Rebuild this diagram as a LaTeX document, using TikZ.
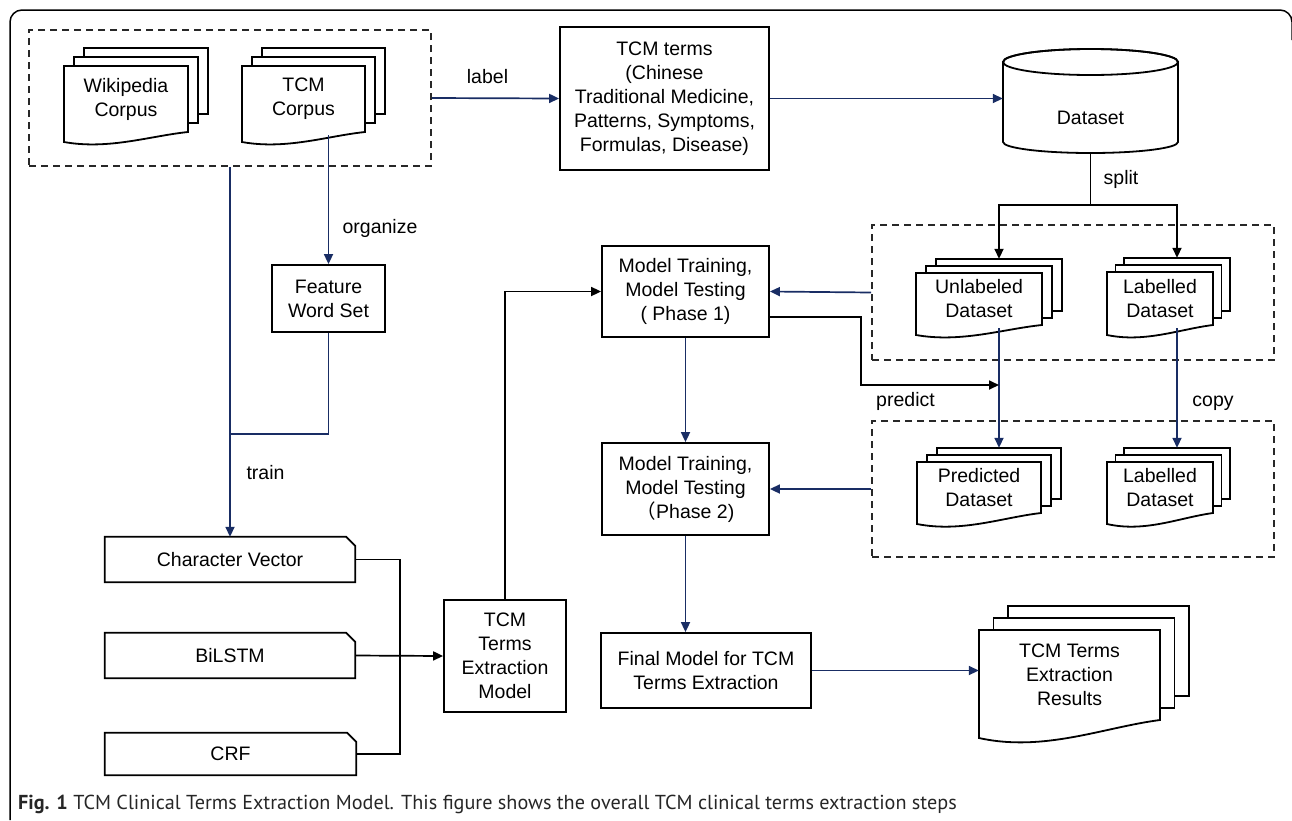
\documentclass[tikz,border=0pt]{standalone}
\usepackage{fontspec}
\setmainfont{Liberation Sans}
\newfontfamily\capfont{PT Sans}
\newfontfamily\cjk{Noto Sans CJK SC}
\usetikzlibrary{arrows.meta,calc}
\definecolor{navy}{RGB}{25,45,100}
\definecolor{dashgray}{RGB}{40,40,40}
\newcommand\mainsize{\fontsize{19.5}{24}\selectfont}
\tikzset{
 box/.style={draw, line width=1.8pt, inner sep=0pt, align=center, font=\mainsize},
 plainbox/.style={inner sep=0pt, align=center, font=\mainsize},
 docline/.style={draw=black, fill=white, line width=1.8pt},
 doctext/.style={inner sep=0pt, align=center, font=\mainsize},
 dbox/.style={draw=dashgray, line width=1.6pt, dash pattern=on 7pt off 5pt, inner sep=0pt},
 nav/.style={draw=navy, line width=1.7pt},
 navarrow/.style={nav, -{Triangle[length=10pt,width=9pt]}},
 blk/.style={draw=black, line width=1.7pt},
 blkarrow/.style={blk, -{Triangle[length=10pt,width=9pt]}},
 lbl/.style={font=\mainsize, inner sep=0pt},
}
% #1 name, #2 x0, #3 x1, #4 ytop, #5 ybottom(right), #6 dx, #7 dy, #8 text, #9 wave
\newcommand\docstack[9]{%
 \filldraw[docline] ({#2+2*#6},{#4-2*#7}) rectangle ({#3+2*#6},{#5-2*#7});
 \filldraw[docline] ({#2+#6},{#4-#7}) rectangle ({#3+#6},{#5-#7});
 \filldraw[docline] (#2,#4) -- (#3,#4) -- (#3,#5) .. controls ({#2+0.69*(#3-#2)},{#5+0.4*#9}) and ({#2+0.36*(#3-#2)},{#5+1.8*#9}) .. (#2,{#5+#9}) -- cycle;
 \node[doctext, minimum width={(#3-#2)*1pt}, minimum height={(#5-#4)*1pt}] (#1) at ({(#2+#3)/2},{(#4+#5)/2}) {#8};
}
\begin{document}
\begin{tikzpicture}[x=1pt,y=-1pt]
\useasboundingbox (0,0) rectangle (1292,820);
\draw[line width=1.5pt, rounded corners=12pt] (10,820) -- (10,10) -- (1292,10) -- (1292,40);

% dashed groups
\node[dbox, minimum width=402pt, minimum height=136pt] (box1) at (230,98) {};
\node[dbox, minimum width=402pt, minimum height=135pt] (box2) at (1073,292.5) {};
\node[dbox, minimum width=402pt, minimum height=136pt] (box3) at (1073,489) {};

% document stacks
\docstack{wiki}{64}{188}{66}{132}{10}{9}{Wikipedia\\Corpus}{10}
\docstack{tcmc}{242}{365}{66}{132}{10}{9}{TCM\\Corpus}{10}
\docstack{unl}{916}{1042}{273}{325}{10}{7}{Unlabeled\\Dataset}{10}
\docstack{labA}{1107}{1213}{272}{325}{8.5}{7}{Labelled\\Dataset}{10}
\docstack{pred}{917}{1041}{462}{513}{10}{7}{Predicted\\Dataset}{11}
\docstack{labB}{1107}{1213}{462}{513}{8.5}{7}{Labelled\\Dataset}{11}
\docstack{res}{979}{1160}{630}{720}{14.5}{12}{TCM Terms\\Extraction\\Results}{18}

% dataset cylinder
\filldraw[docline] (1003,62) -- (1003,142) arc[start angle=180, end angle=360, x radius=87.5pt, y radius=11pt] -- (1178,62) arc[start angle=0, end angle=180, x radius=87.5pt, y radius=13pt] -- cycle;
\draw[line width=1.8pt] (1090.5,62) ellipse [x radius=87.5pt, y radius=13pt];
\node[inner sep=0pt, minimum width=175pt, minimum height=104pt] (ds) at (1090.5,101) {};
\node[lbl] (dstext) at (1090.5,118) {Dataset};

% boxes
\node[box, minimum width=209pt, minimum height=143pt] (terms) at (664.5,98.5) {TCM terms\\(Chinese\\Traditional Medicine,\\Patterns, Symptoms,\\Formulas, Disease)};
\node[box, minimum width=113pt, minimum height=67pt] (fws) at (328.5,298.5) {Feature\\Word Set};
\node[box, minimum width=167pt, minimum height=91pt] (phase1) at (685.5,291.5) {Model Training,\\Model Testing\\( Phase 1)};
\node[box, minimum width=167pt, minimum height=92pt] (phase2) at (685.5,489) {Model Training,\\Model Testing\\{\cjk （}Phase 2)};
\node[box, minimum width=210pt, minimum height=75pt] (final) at (706,670.5) {Final Model for TCM\\Terms Extraction};
\node[box, minimum width=122pt, minimum height=112pt] (tem) at (505,656) {TCM\\Terms\\Extraction\\Model};

\node[plainbox, minimum width=250pt, minimum height=45pt] (cv) at (230,559.5) {Character Vector};
\node[plainbox, minimum width=250pt, minimum height=45pt] (bilstm) at (230,655.5) {BiLSTM};
\node[plainbox, minimum width=251pt, minimum height=42pt] (crf) at (230.5,754) {CRF};
\foreach \n in {cv,bilstm,crf}
  \draw[line width=1.8pt] (\n.south west) -- (\n.north west) -- ([xshift=-9pt]\n.north east) -- ([yshift=-9pt]\n.north east) -- (\n.south east) -- cycle;

% connectors
\draw[navarrow] (box1.east) -- (terms.west);
\node[lbl] (lablabel) at (487.5,77) {label};
\draw[navarrow] (terms.east) -- (terms.east -| ds.west);

\coordinate (sj) at (1090.5,205);
\draw[blk] (ds.south) -- (sj);
\draw[blkarrow] (sj) -| ([xshift=20pt,yshift=14pt]unl.north);
\draw[blkarrow] (sj) -| ([xshift=17pt,yshift=14pt]labA.north);
\node[lbl] (splitlabel) at (1121,179) {split};

\draw[navarrow] (box2.west) -- (phase1.east);
\draw[navarrow] (box3.west) -- (phase2.east);
\draw[navarrow] (phase1.south) -- (phase2.north);
\draw[navarrow] (phase2.south) -- (phase2.south |- final.north);
\draw[navarrow] (final.east) -- (final.east -| res.west);

\draw[navarrow] ([xshift=20pt,yshift=-3pt]unl.south) -- ([xshift=20pt,yshift=14pt]pred.north);
\draw[navarrow] ([xshift=17pt,yshift=-3pt]labA.south) -- ([xshift=17pt,yshift=14pt]labB.north);
\node[lbl] (copylabel) at (1213,403) {copy};

\coordinate (pk) at (861,385);
\coordinate (pj) at (999,385);
\draw[blkarrow] ([yshift=-25.5pt]phase1.east) -| (pk) -- (pj);
\node[lbl] (predlabel) at (905.5,401) {predict};

\draw[navarrow] (box1.south -| cv.north) -- (cv.north);
\draw[navarrow] ([yshift=-3pt]tcmc.south -| fws.north) -- (fws.north);
\node[lbl] (orglabel) at (380,228) {organize};
\coordinate (tj) at (230,434);
\draw[nav] (fws.south) |- (tj);
\node[lbl] (trainlabel) at (265.5,473) {train};

\coordinate (mj) at (400,655.5);
\draw[blk] (cv.east) -| (mj);
\draw[blk] (crf.east) -| (mj);
\draw[blkarrow] (bilstm.east) -- (tem.west);
\draw[blkarrow] (tem.north) |- (phase1.west);

% caption
\node[anchor=base west, inner sep=0pt, font=\capfont\fontsize{20.2}{24}\selectfont, text=black!85] (cap) at (18,809) {\textbf{Fig. 1} TCM Clinical Terms Extraction Model. This figure shows the overall TCM clinical terms extraction steps};
\end{tikzpicture}
\end{document}
